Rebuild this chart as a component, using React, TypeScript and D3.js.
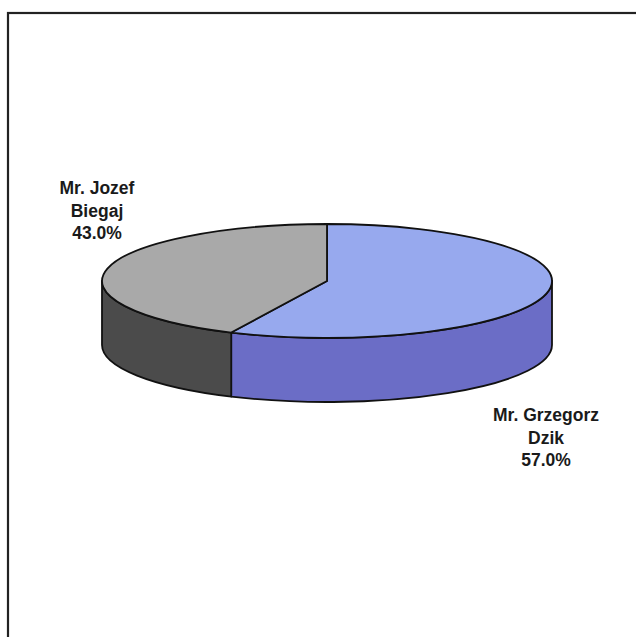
import React from "react";
import * as d3 from "d3";

const names: string[][] = [["Mr. Grzegorz", "Dzik"], ["Mr. Jozef", "Biegaj"]];
const shares: number[] = [57.0, 43.0];
const topColors: string[] = ["#97a9ee", "#a9a9a9"];
const sideColors: string[] = ["#6b6dc6", "#4b4b4b"];

const W = 636;
const H = 637;
const cx = 327;
const cy = 281;
const rx = 225;
const ry = 57;
const depth = 64;

function pt(a: number, dy = 0): [number, number] {
  return [cx + rx * Math.sin(a), cy - ry * Math.cos(a) + dy];
}

function topPath(a0: number, a1: number): string {
  const p0 = pt(a0);
  const p1 = pt(a1);
  const large = a1 - a0 > Math.PI ? 1 : 0;
  return `M${cx},${cy}L${p0[0]},${p0[1]}A${rx},${ry} 0 ${large} 1 ${p1[0]},${p1[1]}Z`;
}

function sidePath(a0: number, a1: number): string | null {
  const s = Math.max(a0, Math.PI / 2);
  const e = Math.min(a1, (3 * Math.PI) / 2);
  if (e <= s) return null;
  const t0 = pt(s);
  const t1 = pt(e);
  const b0 = pt(s, depth);
  const b1 = pt(e, depth);
  return `M${t0[0]},${t0[1]}A${rx},${ry} 0 0 1 ${t1[0]},${t1[1]}L${b1[0]},${b1[1]}A${rx},${ry} 0 0 0 ${b0[0]},${b0[1]}Z`;
}

const labelPos: [number, number][] = [
  [546, 421],
  [97, 194],
];

export default function App() {
  const arcs = d3
    .pie<number>()
    .sort(null)
    .value((d) => d)(shares);
  const fmt = d3.format(".1f");
  return (
    <svg
      width={W}
      height={H}
      style={{ position: "absolute", left: 0, top: 0, background: "#fff" }}
      fontFamily="'Liberation Sans', Arial, sans-serif"
    >
      <rect x={8} y={13} width={640} height={640} fill="#fff" stroke="#222" strokeWidth={2.2} />
      {arcs.map((a, i) => {
        const d = sidePath(a.startAngle, a.endAngle);
        return d ? (
          <path key={"s" + i} d={d} fill={sideColors[i]} stroke="#111" strokeWidth={1.8} strokeLinejoin="round" />
        ) : null;
      })}
      {arcs.map((a, i) => (
        <path key={"t" + i} d={topPath(a.startAngle, a.endAngle)} fill={topColors[i]} stroke="#111" strokeWidth={1.8} strokeLinejoin="round" />
      ))}
      {names.map((n, i) => {
        const [x, y] = labelPos[i];
        const lines = [...n, fmt(shares[i]) + "%"];
        return (
          <text key={"l" + i} x={x} y={y} textAnchor="middle" fontSize={17.5} fontWeight="bold" fill="#1a1a1a">
            {lines.map((l, j) => (
              <tspan key={j} x={x} dy={j === 0 ? 0 : 22.5}>
                {l}
              </tspan>
            ))}
          </text>
        );
      })}
    </svg>
  );
}
